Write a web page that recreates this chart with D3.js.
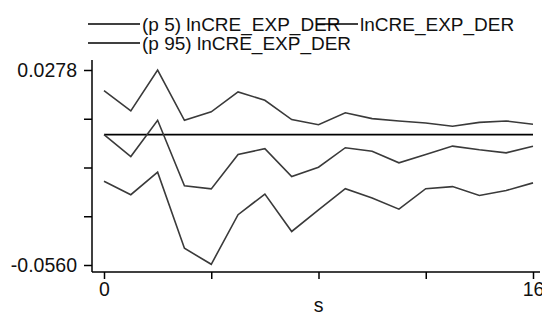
<!DOCTYPE html>
<html>
<head>
<meta charset="utf-8">
<script src="https://cdn.jsdelivr.net/npm/d3@7"></script>
<style>
  body { margin: 0; background: #fff; }
  svg { display: block; font-family: "Liberation Sans", Arial, sans-serif; }
  .axis path, .axis line { stroke: #000; stroke-width: 1.5px; }
  .axis text { fill: #111; font-size: 19.5px; }
</style>
</head>
<body>
<svg id="chart" width="542" height="316"></svg>
<script>
// step (s) of the impulse response
var steps = [0, 1, 2, 3, 4, 5, 6, 7, 8, 9, 10, 11, 12, 13, 14, 15, 16];
// lower band, estimate, upper band
var p5  = [-0.0200, -0.0258, -0.0161, -0.0488, -0.0557, -0.0344, -0.0255, -0.0416, -0.0323, -0.0232, -0.0272, -0.0320, -0.0232, -0.0223, -0.0261, -0.0240, -0.0207];
var est = [0.0000, -0.0094, 0.0062, -0.0220, -0.0233, -0.0085, -0.0060, -0.0180, -0.0140, -0.0056, -0.0071, -0.0121, -0.0085, -0.0049, -0.0065, -0.0078, -0.0050];
var p95 = [0.0189, 0.0102, 0.0278, 0.0062, 0.0098, 0.0184, 0.0148, 0.0065, 0.0043, 0.0094, 0.0069, 0.0059, 0.0050, 0.0036, 0.0053, 0.0059, 0.0045];
var yTicks = [0.0278, 0.006850, -0.01410, -0.03505, -0.0560];
var yLabels = ["0.0278", "", "", "", "-0.0560"];
var xTicks = [0, 4, 8, 12, 16];
var xLabels = ["0", "", "", "", "16"];
var legendNames = ["(p 5) lnCRE_EXP_DER", "lnCRE_EXP_DER", "(p 95) lnCRE_EXP_DER"];

var svg = d3.select("#chart");

var x = d3.scaleLinear().domain([0, 16]).range([104, 533]);
var y = d3.scaleLinear().domain([-0.0560, 0.0278]).range([265, 70]);

// axes
var yAxis = d3.axisLeft(y)
  .tickValues(yTicks)
  .tickSize(8)
  .tickPadding(7)
  .tickFormat(function(d, i) { return yLabels[i]; });
svg.append("g")
  .attr("class", "axis")
  .attr("transform", "translate(92,0)")
  .call(yAxis)
  .call(function(g) { g.select(".domain").attr("d", "M0,60V272"); });

var xAxis = d3.axisBottom(x)
  .tickValues(xTicks)
  .tickSize(7)
  .tickPadding(3)
  .tickFormat(function(d, i) { return xLabels[i]; });
svg.append("g")
  .attr("class", "axis")
  .attr("transform", "translate(0,272)")
  .call(xAxis)
  .call(function(g) { g.select(".domain").attr("d", "M92,0H540"); });

svg.append("text") // x axis title
  .text("s")
  .attr("x", x(8))
  .attr("y", 312)
  .attr("text-anchor", "middle")
  .attr("fill", "#111")
  .style("font-size", "19.5px");

// zero line
svg.append("line")
  .attr("x1", x(0)).attr("x2", x(16))
  .attr("y1", y(0)).attr("y2", y(0))
  .attr("stroke", "#000")
  .attr("stroke-width", 1.8);

var line = d3.line()
  .x(function(d, i) { return x(steps[i]); })
  .y(function(d) { return y(d); });

[p5, est, p95].forEach(function(s) {
  svg.append("path")
    .attr("d", line(s))
    .attr("fill", "none")
    .attr("stroke", "#3a3a3a")
    .attr("stroke-width", 1.6);
});

// legend
var legendPos = [[88, 24], [317, 24], [88, 43]];
var keyLen = [52, 41, 52];
legendNames.forEach(function(name, i) {
  var p = legendPos[i];
  svg.append("text")
    .text(name)
    .attr("x", p[0] + keyLen[i] + 2)
    .attr("y", p[1] + 7)
    .style("font-size", "19px")
    .attr("fill", "#111");
  svg.append("line")
    .attr("x1", p[0]).attr("x2", p[0] + keyLen[i])
    .attr("y1", p[1]).attr("y2", p[1])
    .attr("stroke", "#000")
    .attr("stroke-width", 1.6);
});
</script>
</body>
</html>
